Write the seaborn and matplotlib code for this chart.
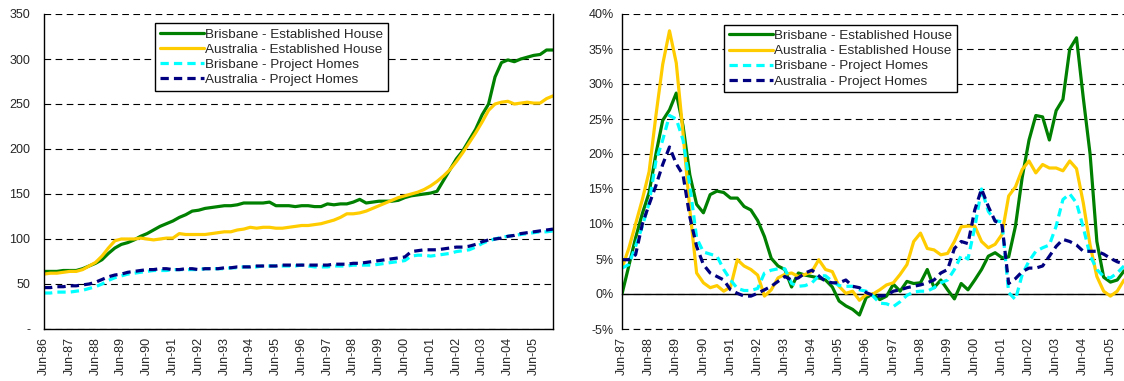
import matplotlib
matplotlib.use("Agg")
import matplotlib.pyplot as plt
import seaborn as sns
import pandas as pd
import numpy as np

# ---- data (quarterly) ----
series_names = ["Brisbane - Established House", "Australia - Established House",
                "Brisbane - Project Homes", "Australia - Project Homes"]

# index levels, Jun-86 .. Mar-06
bne_est_idx = [64, 64, 64, 65, 65, 65, 67, 70, 73, 77,
               84, 90, 94, 96, 99, 103, 106, 110, 114, 117,
               120, 124, 127, 131, 132, 134, 135, 136, 137, 137,
               138, 140, 140, 140, 140, 141, 137, 137, 137, 136,
               137, 137, 136, 136, 139, 138, 139, 139, 141, 144,
               140, 141, 142, 142, 142, 143, 146, 148, 149, 150,
               151, 153, 165, 177, 189, 198, 210, 222, 238, 250,
               280, 296, 299, 297, 300, 302, 304, 305, 310, 310]
aus_est_idx = [61, 62, 62, 63, 64, 64, 66, 70, 74, 81,
               90, 98, 100, 100, 100, 101, 100, 99, 100, 101,
               101, 106, 105, 105, 105, 105, 106, 107, 108, 108,
               110, 111, 113, 112, 113, 113, 112, 112, 113, 114,
               115, 115, 116, 117, 119, 121, 124, 128, 128, 129,
               131, 134, 137, 140, 143, 146, 148, 150, 152, 155,
               159, 164, 170, 177, 186, 196, 207, 218, 230, 243,
               250, 252, 253, 250, 251, 252, 251, 251, 256, 259]
bne_proj_idx = [40, 40, 41, 41, 41, 42, 43, 45, 47, 50,
                54, 57, 59, 61, 62, 63, 64, 65, 65, 65,
                66, 66, 66, 66, 66, 67, 67, 67, 67, 68,
                68, 69, 69, 69, 70, 70, 70, 70, 70, 70,
                71, 70, 69, 69, 69, 70, 70, 70, 71, 71,
                71, 71, 72, 73, 74, 75, 76, 81, 82, 82,
                81, 82, 83, 84, 86, 87, 88, 91, 95, 98,
                100, 102, 103, 104, 105, 106, 107, 108, 108, 109]
aus_proj_idx = [46, 46, 47, 47, 48, 48, 49, 50, 52, 55,
                58, 60, 61, 63, 64, 65, 66, 66, 67, 67,
                66, 66, 67, 67, 66, 67, 67, 67, 68, 68,
                69, 69, 69, 70, 70, 70, 70, 71, 71, 71,
                71, 71, 71, 71, 71, 72, 72, 72, 73, 73,
                74, 75, 76, 77, 78, 79, 80, 86, 87, 88,
                88, 88, 89, 90, 91, 91, 92, 94, 97, 99,
                100, 101, 103, 104, 106, 107, 108, 109, 110, 111]

# annual growth (%), Jun-87 .. Dec-05
bne_est_gr = [0, 4, 8, 11.5, 14.5, 20, 24.8, 26.3, 28.7, 24,
              17, 12.8, 11.6, 14.2, 14.7, 14.5, 13.7, 13.7, 12.5, 12,
              10.5, 8.2, 5.1, 4, 3.5, 1, 3, 2.7, 2.5, 2.3,
              2, 1, -1, -1.7, -2.2, -3, -0.5, 0, -0.8, -0.3,
              1.4, 0.4, 1.8, 1.5, 1.6, 3.5, 0.9, 2, 0.6, -0.7,
              1.5, 0.6, 2, 3.5, 5.4, 5.9, 5.2, 5.3, 9.7, 16.7,
              22, 25.5, 25.3, 22, 26.2, 27.8, 35, 36.6, 28, 20,
              7.5, 2.4, 1.7, 2, 3.3]
aus_est_gr = [3.7, 6.5, 10, 13.5, 17.5, 25.5, 32.8, 37.6, 33, 23,
              12, 3, 1.6, 0.9, 1.2, 0.4, 1, 4.9, 4, 3.5,
              2.7, -0.3, 0.6, 2.3, 2.8, 3, 2.5, 2.8, 3.2, 4.9,
              3.5, 3.2, 1.1, 0.1, 0.4, -0.9, -0.1, 0, 0.6, 1.3,
              1.6, 2.8, 4.2, 7.5, 8.7, 6.5, 6.3, 5.6, 5.8, 7.5,
              9.6, 9.7, 9.7, 7.5, 6.6, 7.1, 8.5, 14, 15.3, 17.8,
              19, 17.3, 18.5, 18, 18, 17.6, 19, 17.9, 13, 7,
              2.5, 0.4, -0.3, 0.4, 2]
bne_proj_gr = [3.7, 4.2, 6.8, 9.7, 13, 19, 22, 25.5, 25, 22,
               15.5, 8, 6, 5.7, 5.4, 3.5, 2, 0.8, 0.5, 0.5,
               0.8, 3, 3.4, 3.6, 3.6, 1.5, 1.1, 1.2, 1.6, 2.6,
               2.6, 1.8, 1.2, 1.1, 1.1, 0.6, 0.4, -0.3, -1.3, -1.4,
               -1.8, -1.1, -0.2, 0.3, 0.4, 0.4, 0.9, 1.6, 2, 3.5,
               5.5, 5, 9.5, 15, 11.8, 10.5, 10.3, 0.2, -0.8, 2.8,
               4.7, 6.1, 6.6, 7, 9.7, 13.5, 14.3, 13, 9.5, 5.5,
               3.5, 2.5, 2.3, 3, 4]
aus_proj_gr = [4.9, 4.9, 5.6, 10, 12.8, 15.5, 18.5, 21, 18.6, 17,
               11, 6.8, 4.2, 3, 2.5, 2, 0.6, 0.1, -0.3, -0.3,
               0.1, 0.6, 1.1, 1.8, 2.5, 2, 2.3, 3, 3.4, 2.6,
               1.8, 1.6, 1.6, 2, 1.1, 0.9, 0.2, -0.2, -0.3, -0.2,
               0.4, 0.6, 0.9, 1.1, 1.3, 1.6, 2, 3, 3.5, 6.5,
               7.5, 7.2, 12, 15, 12.5, 10.4, 10, 1.5, 2.2, 3.2,
               3.7, 3.7, 4, 5.4, 6.8, 7.8, 7.5, 7, 6.1, 6.1,
               6.1, 5.7, 5.1, 4.6, 4.3]

left_ticklabels = ["Jun-86", "Jun-87", "Jun-88", "Jun-89", "Jun-90", "Jun-91", "Jun-92",
                   "Jun-93", "Jun-94", "Jun-95", "Jun-96", "Jun-97", "Jun-98", "Jun-99",
                   "Jun-00", "Jun-01", "Jun-02", "Jun-03", "Jun-04", "Jun-05"]
right_ticklabels = left_ticklabels[1:]

palette = {series_names[0]: "#008000", series_names[1]: "#FFCC00",
           series_names[2]: "#00FFFF", series_names[3]: "#000080"}
dash_map = {series_names[0]: "", series_names[1]: "",
            series_names[2]: (2.6, 1.6), series_names[3]: (2.6, 1.6)}


def to_long(cols):
    frames = []
    for name, vals in zip(series_names, cols):
        frames.append(pd.DataFrame({"q": np.arange(len(vals)), "value": vals, "series": name}))
    return pd.concat(frames, ignore_index=True)


idx_df = to_long([bne_est_idx, aus_est_idx, bne_proj_idx, aus_proj_idx])
gr_df = to_long([bne_est_gr, aus_est_gr, bne_proj_gr, aus_proj_gr])

sns.set_style("white")
plt.rcParams["font.family"] = ["Liberation Sans", "DejaVu Sans"]

W, H = 1124, 381
fig = plt.figure(figsize=(W / 100, H / 100), dpi=100)
ax1 = fig.add_axes([44 / W, 1 - 329 / H, 509 / W, 315 / H])
ax2 = fig.add_axes([622 / W, 1 - 329 / H, 502 / W, 315 / H])

grid_kw = dict(color="black", linestyle=(0, (6, 4)), linewidth=0.8)


def draw(ax, df):
    sns.lineplot(data=df, x="q", y="value", hue="series", style="series",
                 hue_order=series_names, style_order=series_names,
                 palette=palette, dashes=dash_map, linewidth=2.3, ax=ax)
    handles, labels = ax.get_legend_handles_labels()
    keep = [(h, l) for h, l in zip(handles, labels) if l in series_names]
    ax.legend([h for h, _ in keep], [l for _, l in keep], loc="upper left",
              frameon=True, fancybox=False, edgecolor="black", framealpha=1,
              fontsize=9.7, handlelength=3.3, handletextpad=0.1,
              labelspacing=0.2, borderpad=0.35, borderaxespad=0)
    ax.get_legend().get_frame().set_linewidth(1.0)
    ax.set_xlabel("")
    ax.set_ylabel("")
    ax.yaxis.grid(True, **grid_kw)
    ax.xaxis.grid(False)
    ax.set_axisbelow(True)
    for s in ax.spines.values():
        s.set_color("black")
        s.set_linewidth(1)
    ax.spines["top"].set_visible(False)


# left: index levels
draw(ax1, idx_df)
ax1.set_xlim(0, len(bne_est_idx) - 1)
ax1.set_ylim(0, 350)
ax1.set_yticks(np.arange(0, 351, 50))
ax1.set_yticklabels(["-"] + [str(v) for v in range(50, 351, 50)])
ax1.set_xticks(np.arange(0, 4 * len(left_ticklabels), 4))
ax1.set_xticklabels(left_ticklabels, rotation=90)
ax1.tick_params(axis="both", direction="out", length=4, width=1, color="black",
                labelsize=9, pad=2)
ax1.tick_params(axis="y", pad=6)
ax1.get_legend().set_bbox_to_anchor((0.218, 0.97))

# right: annual growth
draw(ax2, gr_df)
ax2.set_xlim(0, len(bne_est_gr) - 1)
ax2.set_ylim(-5, 40)
ax2.set_yticks(np.arange(-5, 41, 5))
ax2.set_yticklabels([f"{v}%" for v in range(-5, 41, 5)])
ax2.axhline(-5, clip_on=False, zorder=0.5, **grid_kw)
ax2.spines["right"].set_visible(False)
ax2.spines["bottom"].set_position(("data", 0))
ax2.spines["bottom"].set_zorder(1)
ax2.set_xticks(np.arange(0, 4 * len(right_ticklabels), 4))
ax2.tick_params(axis="x", direction="out", length=5, width=1, color="black",
                labelbottom=False)
ax2.tick_params(axis="y", direction="out", length=4, width=1, color="black",
                labelsize=9, pad=2)
sec = ax2.secondary_xaxis(0.0)
sec.set_xticks(np.arange(0, 4 * len(right_ticklabels), 4))
sec.set_xticklabels(right_ticklabels, rotation=90)
sec.tick_params(length=0, labelsize=9, pad=6)
sec.spines["bottom"].set_visible(False)
ax2.get_legend().set_bbox_to_anchor((0.203, 0.965))

fig.savefig("out.png", dpi=100)
